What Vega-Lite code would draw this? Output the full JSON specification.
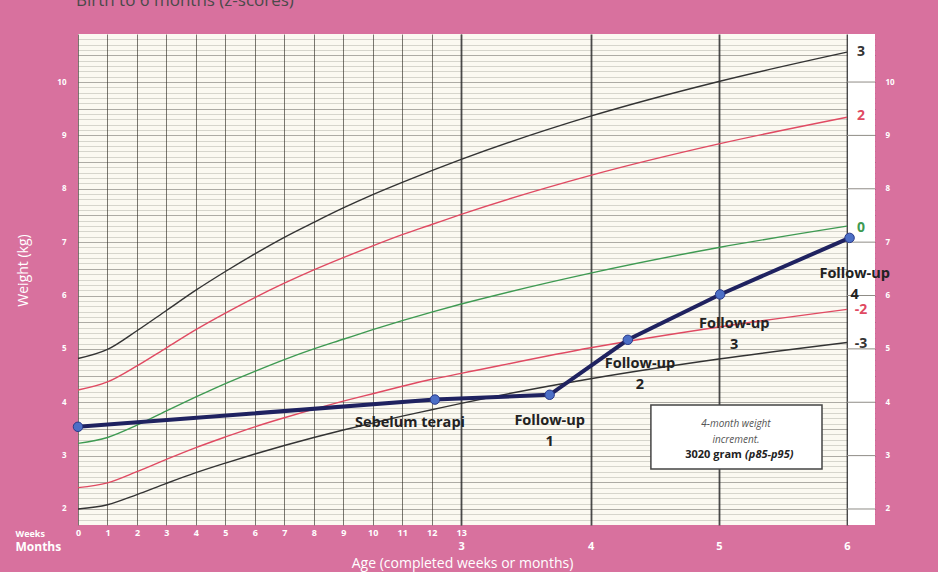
{
  "$schema": "https://vega.github.io/schema/vega-lite/v6.json",
  "width": 797,
  "height": 491,
  "autosize": {"type": "none"},
  "padding": {"left": 78, "top": 34, "right": 63, "bottom": 47},
  "background": "#D8719E",
  "title": {"text": "Birth to 6 months (z-scores)", "anchor": "start", "frame": "group", "offset": 24, "fontSize": 17, "font": "Open Sans", "fontWeight": "normal", "color": "#4a4a4a", "dx": -2},
  "config": {"view": {"fill": "#FBF9F1", "stroke": null}, "font": "Open Sans"},
  "datasets": {
    "curves": [
      {"z": "3", "m": 0, "w": 4.82}, {"z": "3", "m": 0.23, "w": 4.99}, {"z": "3", "m": 0.46, "w": 5.34}, {"z": "3", "m": 0.69, "w": 5.72}, {"z": "3", "m": 0.9199, "w": 6.10}, {"z": "3", "m": 1.1499, "w": 6.45}, {"z": "3", "m": 1.3799, "w": 6.78}, {"z": "3", "m": 1.6099, "w": 7.09}, {"z": "3", "m": 1.8399, "w": 7.37}, {"z": "3", "m": 2.0698, "w": 7.64}, {"z": "3", "m": 2.2998, "w": 7.89}, {"z": "3", "m": 2.5298, "w": 8.12}, {"z": "3", "m": 2.7598, "w": 8.34}, {"z": "3", "m": 2.9897, "w": 8.55}, {"z": "3", "m": 4, "w": 9.36}, {"z": "3", "m": 5, "w": 10.01}, {"z": "3", "m": 6, "w": 10.56},
      {"z": "2", "m": 0, "w": 4.23}, {"z": "2", "m": 0.23, "w": 4.38}, {"z": "2", "m": 0.46, "w": 4.68}, {"z": "2", "m": 0.69, "w": 5.02}, {"z": "2", "m": 0.9199, "w": 5.36}, {"z": "2", "m": 1.1499, "w": 5.67}, {"z": "2", "m": 1.3799, "w": 5.96}, {"z": "2", "m": 1.6099, "w": 6.23}, {"z": "2", "m": 1.8399, "w": 6.48}, {"z": "2", "m": 2.0698, "w": 6.71}, {"z": "2", "m": 2.2998, "w": 6.93}, {"z": "2", "m": 2.5298, "w": 7.14}, {"z": "2", "m": 2.7598, "w": 7.33}, {"z": "2", "m": 2.9897, "w": 7.52}, {"z": "2", "m": 4, "w": 8.25}, {"z": "2", "m": 5, "w": 8.84}, {"z": "2", "m": 6, "w": 9.34},
      {"z": "0", "m": 0, "w": 3.23}, {"z": "0", "m": 0.23, "w": 3.34}, {"z": "0", "m": 0.46, "w": 3.57}, {"z": "0", "m": 0.69, "w": 3.84}, {"z": "0", "m": 0.9199, "w": 4.10}, {"z": "0", "m": 1.1499, "w": 4.35}, {"z": "0", "m": 1.3799, "w": 4.58}, {"z": "0", "m": 1.6099, "w": 4.80}, {"z": "0", "m": 1.8399, "w": 5.00}, {"z": "0", "m": 2.0698, "w": 5.18}, {"z": "0", "m": 2.2998, "w": 5.36}, {"z": "0", "m": 2.5298, "w": 5.53}, {"z": "0", "m": 2.7598, "w": 5.69}, {"z": "0", "m": 2.9897, "w": 5.84}, {"z": "0", "m": 4, "w": 6.42}, {"z": "0", "m": 5, "w": 6.90}, {"z": "0", "m": 6, "w": 7.30},
      {"z": "-2", "m": 0, "w": 2.40}, {"z": "-2", "m": 0.23, "w": 2.49}, {"z": "-2", "m": 0.46, "w": 2.70}, {"z": "-2", "m": 0.69, "w": 2.93}, {"z": "-2", "m": 0.9199, "w": 3.15}, {"z": "-2", "m": 1.1499, "w": 3.35}, {"z": "-2", "m": 1.3799, "w": 3.54}, {"z": "-2", "m": 1.6099, "w": 3.71}, {"z": "-2", "m": 1.8399, "w": 3.87}, {"z": "-2", "m": 2.0698, "w": 4.02}, {"z": "-2", "m": 2.2998, "w": 4.16}, {"z": "-2", "m": 2.5298, "w": 4.30}, {"z": "-2", "m": 2.7598, "w": 4.43}, {"z": "-2", "m": 2.9897, "w": 4.54}, {"z": "-2", "m": 4, "w": 5.02}, {"z": "-2", "m": 5, "w": 5.41}, {"z": "-2", "m": 6, "w": 5.74},
      {"z": "-3", "m": 0, "w": 2.00}, {"z": "-3", "m": 0.23, "w": 2.08}, {"z": "-3", "m": 0.46, "w": 2.27}, {"z": "-3", "m": 0.69, "w": 2.48}, {"z": "-3", "m": 0.9199, "w": 2.68}, {"z": "-3", "m": 1.1499, "w": 2.86}, {"z": "-3", "m": 1.3799, "w": 3.03}, {"z": "-3", "m": 1.6099, "w": 3.19}, {"z": "-3", "m": 1.8399, "w": 3.34}, {"z": "-3", "m": 2.0698, "w": 3.48}, {"z": "-3", "m": 2.2998, "w": 3.61}, {"z": "-3", "m": 2.5298, "w": 3.74}, {"z": "-3", "m": 2.7598, "w": 3.86}, {"z": "-3", "m": 2.9897, "w": 3.98}, {"z": "-3", "m": 4, "w": 4.44}, {"z": "-3", "m": 5, "w": 4.81}, {"z": "-3", "m": 6, "w": 5.12}
    ],
    "patient": [
      {"m": 0, "w": 3.54}, {"m": 2.785, "w": 4.05}, {"m": 3.68, "w": 4.14}, {"m": 4.29, "w": 5.17}, {"m": 5.01, "w": 6.02}, {"m": 6.02, "w": 7.08}
    ],
    "labels": [
      {"m": 2.59, "w": 3.745, "t": "Sebelum terapi"},
      {"m": 3.68, "w": 3.78, "t": "Follow-up\n1"},
      {"m": 4.385, "w": 4.85, "t": "Follow-up\n2"},
      {"m": 5.12, "w": 5.60, "t": "Follow-up\n3"},
      {"m": 6.06, "w": 6.54, "t": "Follow-up\n4"}
    ],
    "zlabels": [
      {"z": "3", "w": 10.57}, {"z": "2", "w": 9.37}, {"z": "0", "w": 7.27}, {"z": "-2", "w": 5.73}, {"z": "-3", "w": 5.10}
    ],
    "kgticks": [
      {"kg": 2}, {"kg": 3}, {"kg": 4}, {"kg": 5}, {"kg": 6}, {"kg": 7}, {"kg": 8}, {"kg": 9}, {"kg": 10}
    ]
  },
  "resolve": {"axis": {"x": "independent", "y": "independent"}},
  "layer": [
    {
      "data": {"name": "curves"},
      "mark": {"type": "line", "interpolate": "monotone", "strokeWidth": 1.4},
      "encoding": {
        "x": {"field": "m", "type": "quantitative", "scale": {"domain": [0, 6.2185], "nice": false, "zero": false},
          "axis": {"orient": "bottom", "values": [0, 0.23, 0.46, 0.69, 0.9199, 1.1499, 1.3799, 1.6099, 1.8399, 2.0698, 2.2998, 2.5298, 2.7598, 2.9897],
            "labelExpr": "format(round(datum.value*30.4375/7),'d')", "ticks": false, "domain": false, "grid": true, "gridColor": "#7a776f", "gridWidth": 1,
            "labelColor": "white", "labelFontSize": 9, "labelFontWeight": "bold", "labelPadding": 3, "labelFlush": false, "labelOverlap": false,
            "title": "Weeks", "titleX": -63, "titleY": 8, "titleAlign": "left", "titleBaseline": "middle", "titleAngle": 0, "titleFontSize": 9, "titleFontWeight": "bold", "titleColor": "white"}},
        "y": {"field": "w", "type": "quantitative", "scale": {"domain": [1.7, 10.9], "nice": false, "zero": false},
          "axis": {"orient": "left",
            "values": [1.8, 1.9, 2, 2.1, 2.2, 2.3, 2.4, 2.5, 2.6, 2.7, 2.8, 2.9, 3, 3.1, 3.2, 3.3, 3.4, 3.5, 3.6, 3.7, 3.8, 3.9, 4, 4.1, 4.2, 4.3, 4.4, 4.5, 4.6, 4.7, 4.8, 4.9, 5, 5.1, 5.2, 5.3, 5.4, 5.5, 5.6, 5.7, 5.8, 5.9, 6, 6.1, 6.2, 6.3, 6.4, 6.5, 6.6, 6.7, 6.8, 6.9, 7, 7.1, 7.2, 7.3, 7.4, 7.5, 7.6, 7.7, 7.8, 7.9, 8, 8.1, 8.2, 8.3, 8.4, 8.5, 8.6, 8.7, 8.8, 8.9, 9, 9.1, 9.2, 9.3, 9.4, 9.5, 9.6, 9.7, 9.8, 9.9, 10, 10.1, 10.2, 10.3, 10.4, 10.5, 10.6, 10.7, 10.8],
            "labelExpr": "abs(datum.value - round(datum.value)) < 0.001 ? format(datum.value,'d') : ''",
            "ticks": false, "domain": false, "grid": true,
            "gridColor": "#2e2b24",
            "gridOpacity": {"condition": {"test": "abs(datum.value*2 - round(datum.value*2)) < 0.01", "value": 0.42}, "value": 0.2},
            "gridWidth": 0.9, "labelColor": "white", "labelFontSize": 8, "labelFontWeight": "bold", "labelPadding": 12, "labelFlush": false, "labelOverlap": false,
            "title": "Weight (kg)", "titleColor": "white", "titleFontSize": 14, "titleFontWeight": "normal", "titleX": -55, "titleY": 236, "titleAngle": -90, "titleAlign": "center", "titleBaseline": "middle"}},
        "color": {"field": "z", "type": "nominal", "scale": {"domain": ["3", "2", "0", "-2", "-3"], "range": ["#333333", "#E04A62", "#3E9A52", "#E04A62", "#333333"]}, "legend": null}
      }
    },
    {
      "data": {"values": [{"part": "z-score column"}]},
      "mark": {"type": "rect", "fill": "#FFFFFF"},
      "encoding": {
        "x": {"datum": 6.008, "type": "quantitative", "scale": {"domain": [0, 6.2185], "nice": false, "zero": false}, "axis": null},
        "x2": {"datum": 6.2185},
        "y": {"datum": 1.7, "type": "quantitative", "scale": {"domain": [1.7, 10.9], "nice": false, "zero": false}, "axis": null},
        "y2": {"datum": 10.9}
      }
    },
    {
      "data": {"name": "kgticks"},
      "mark": {"type": "rule", "color": "#8f8c86", "strokeWidth": 1},
      "encoding": {
        "x": {"datum": 6.0, "type": "quantitative", "scale": {"domain": [0, 6.2185], "nice": false, "zero": false}, "axis": null},
        "x2": {"datum": 6.2185},
        "y": {"field": "kg", "type": "quantitative", "scale": {"domain": [1.7, 10.9], "nice": false, "zero": false},
          "axis": {"orient": "right", "values": [2, 3, 4, 5, 6, 7, 8, 9, 10], "ticks": false, "domain": false, "grid": false, "labelColor": "white", "labelFontSize": 8, "labelFontWeight": "bold", "labelPadding": 10, "labelFlush": false, "title": null}}
      }
    },
    {
      "data": {"name": "zlabels"},
      "mark": {"type": "text", "fontSize": 14, "fontWeight": "bold", "align": "center", "baseline": "middle"},
      "encoding": {
        "x": {"datum": 6.11, "type": "quantitative", "scale": {"domain": [0, 6.2185], "nice": false, "zero": false}, "axis": null},
        "y": {"field": "w", "type": "quantitative", "scale": {"domain": [1.7, 10.9], "nice": false, "zero": false}, "axis": null},
        "color": {"field": "z", "type": "nominal", "legend": null},
        "text": {"field": "z"}
      }
    },
    {
      "data": {"values": [{"note": "4-month weight increment"}]},
      "mark": {"type": "rect", "fill": "#FFFFFF", "stroke": "#444444", "strokeWidth": 1.5},
      "encoding": {
        "x": {"datum": 4.47, "type": "quantitative", "scale": {"domain": [0, 6.2185], "nice": false, "zero": false}, "axis": null},
        "x2": {"datum": 5.805},
        "y": {"datum": 2.75, "type": "quantitative", "scale": {"domain": [1.7, 10.9], "nice": false, "zero": false}, "axis": null},
        "y2": {"datum": 3.95}
      }
    },
    {
      "data": {"values": [{"m": 5.134, "w": 3.595, "t": "4-month weight"}, {"m": 5.134, "w": 3.295, "t": "increment."}]},
      "mark": {"type": "text", "fontSize": 10, "fontStyle": "italic", "color": "#555555", "align": "center", "baseline": "middle"},
      "encoding": {
        "x": {"field": "m", "type": "quantitative", "scale": {"domain": [0, 6.2185], "nice": false, "zero": false}, "axis": null},
        "y": {"field": "w", "type": "quantitative", "scale": {"domain": [1.7, 10.9], "nice": false, "zero": false}, "axis": null},
        "text": {"field": "t"}
      }
    },
    {
      "data": {"values": [{"m": 5.18, "w": 3.01, "t": "3020 gram"}]},
      "mark": {"type": "text", "fontSize": 11, "fontWeight": "bold", "color": "#222222", "align": "right", "baseline": "middle"},
      "encoding": {
        "x": {"field": "m", "type": "quantitative", "scale": {"domain": [0, 6.2185], "nice": false, "zero": false}, "axis": null},
        "y": {"field": "w", "type": "quantitative", "scale": {"domain": [1.7, 10.9], "nice": false, "zero": false}, "axis": null},
        "text": {"field": "t"}
      }
    },
    {
      "data": {"values": [{"m": 5.205, "w": 3.01, "t": "(p85-p95)"}]},
      "mark": {"type": "text", "fontSize": 11, "fontWeight": "bold", "fontStyle": "italic", "color": "#222222", "align": "left", "baseline": "middle"},
      "encoding": {
        "x": {"field": "m", "type": "quantitative", "scale": {"domain": [0, 6.2185], "nice": false, "zero": false}, "axis": null},
        "y": {"field": "w", "type": "quantitative", "scale": {"domain": [1.7, 10.9], "nice": false, "zero": false}, "axis": null},
        "text": {"field": "t"}
      }
    },
    {
      "data": {"name": "patient"},
      "mark": {"type": "line", "color": "#1F2260", "strokeWidth": 4, "point": {"filled": true, "fill": "#4C6FC6", "stroke": "#2B3A8A", "strokeWidth": 1, "size": 90, "opacity": 1}},
      "encoding": {
        "x": {"field": "m", "type": "quantitative", "scale": {"domain": [0, 6.2185], "nice": false, "zero": false},
          "axis": {"orient": "bottom", "values": [2.9897, 4, 5, 6], "labelExpr": "format(round(datum.value),'d')", "ticks": false, "domain": false, "grid": true, "gridColor": "#4a4a4a", "gridWidth": 1.8,
            "labelColor": "white", "labelFontSize": 11, "labelFontWeight": "bold", "labelPadding": 15, "labelFlush": false, "labelOverlap": false,
            "title": "Age (completed weeks or months)", "titleX": 384, "titleY": 38, "titleBaseline": "middle", "titleAlign": "center", "titleFontSize": 14, "titleFontWeight": "normal", "titleColor": "white"}},
        "y": {"field": "w", "type": "quantitative", "scale": {"domain": [1.7, 10.9], "nice": false, "zero": false}, "axis": null}
      }
    },
    {
      "data": {"name": "labels"},
      "mark": {"type": "text", "fontSize": 14.5, "fontWeight": "bold", "color": "#222222", "align": "center", "baseline": "top", "lineBreak": "\n", "lineHeight": 21},
      "encoding": {
        "x": {"field": "m", "type": "quantitative", "scale": {"domain": [0, 6.2185], "nice": false, "zero": false},
          "axis": {"orient": "bottom", "labels": false, "ticks": false, "domain": false, "grid": false, "title": "Months", "titleX": -63, "titleY": 21, "titleAlign": "left", "titleBaseline": "middle", "titleAngle": 0, "titleFontSize": 12, "titleFontWeight": "bold", "titleColor": "white"}},
        "y": {"field": "w", "type": "quantitative", "scale": {"domain": [1.7, 10.9], "nice": false, "zero": false}, "axis": null},
        "text": {"field": "t"}
      }
    }
  ]
}
